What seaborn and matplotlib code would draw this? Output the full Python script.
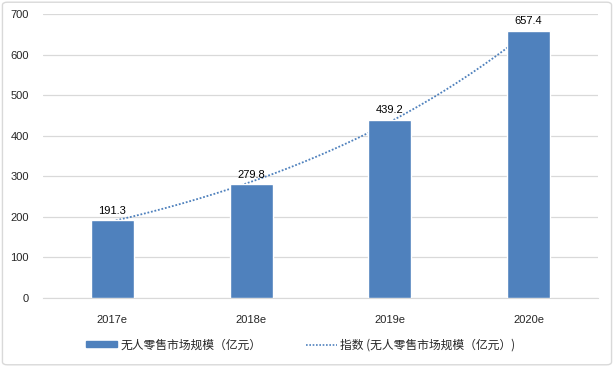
import numpy as np
import pandas as pd
import matplotlib
matplotlib.use("Agg")
import matplotlib.pyplot as plt
import seaborn as sns
from matplotlib.patches import FancyBboxPatch, Patch
from matplotlib.lines import Line2D

# data
years = ["2017e", "2018e", "2019e", "2020e"]
market_size = [191.3, 279.8, 439.2, 657.4]
bar_label = "无人零售市场规模（亿元）"
trend_label = "指数 (无人零售市场规模（亿元）)"
y_ticks = [0, 100, 200, 300, 400, 500, 600, 700]

sns.set_style("white")
plt.rcParams['font.family'] = ['Noto Sans CJK SC', 'DejaVu Sans']

bar_color = "#4F81BD"
df = pd.DataFrame({"year": years, "size": market_size})

fig = plt.figure(figsize=(6.14, 3.67), dpi=100)
ax = fig.add_axes([0.070, 0.188, 0.904, 0.774])

# exponential trendline fitted to the bars (Excel "指数" trendline)
xs = np.arange(len(years))
b, a = np.polyfit(xs, np.log(market_size), 1)
xt = np.linspace(0, len(years) - 1, 200)
ax.plot(xt, np.exp(a + b * xt), linestyle=(0, (1, 1)), color=bar_color,
        linewidth=1.3, zorder=2)

sns.barplot(data=df, x="year", y="size", color=bar_color, width=0.31,
            saturation=1, ax=ax, zorder=3)

for i, v in enumerate(market_size):
    ax.text(i, v + 12, f"{v:.1f}", ha="center", va="bottom", fontsize=8,
            color="#000000", family=['Liberation Sans', 'DejaVu Sans'])

ax.set_ylim(0, 700)
ax.set_xlim(-0.5, 3.5)
ax.set_yticks(y_ticks)
ax.set_yticklabels([str(t) for t in y_ticks], family=['Liberation Sans'], fontsize=8)
ax.set_xticklabels(years, family=['Liberation Sans'], fontsize=8)
ax.yaxis.grid(True, color="#D9D9D9", linewidth=0.9)
ax.set_axisbelow(True)
ax.tick_params(axis="both", length=0, pad=10)
ax.tick_params(axis="x", pad=12)
ax.set_xlabel("")
ax.set_ylabel("")
for s in ["top", "right", "left"]:
    ax.spines[s].set_visible(False)
ax.spines["bottom"].set_color("#D9D9D9")

handles = [Patch(facecolor=bar_color, edgecolor=bar_color),
           Line2D([0], [0], color=bar_color, linestyle=(0, (1, 1)), linewidth=1.2)]
fig.legend(handles, [bar_label, trend_label], loc="center", bbox_to_anchor=(0.49, 0.06),
           ncol=2, frameon=False, fontsize=8.5, handlelength=2.6, handleheight=0.45,
           columnspacing=3.8, handletextpad=0.3)

border = FancyBboxPatch((0.004, 0.006), 0.992, 0.988, boxstyle="round,pad=0,rounding_size=0.008",
                        transform=fig.transFigure, facecolor="none", edgecolor="#D9D9D9",
                        linewidth=1.0)
fig.patches.append(border)

fig.savefig("out.png", dpi=100)
